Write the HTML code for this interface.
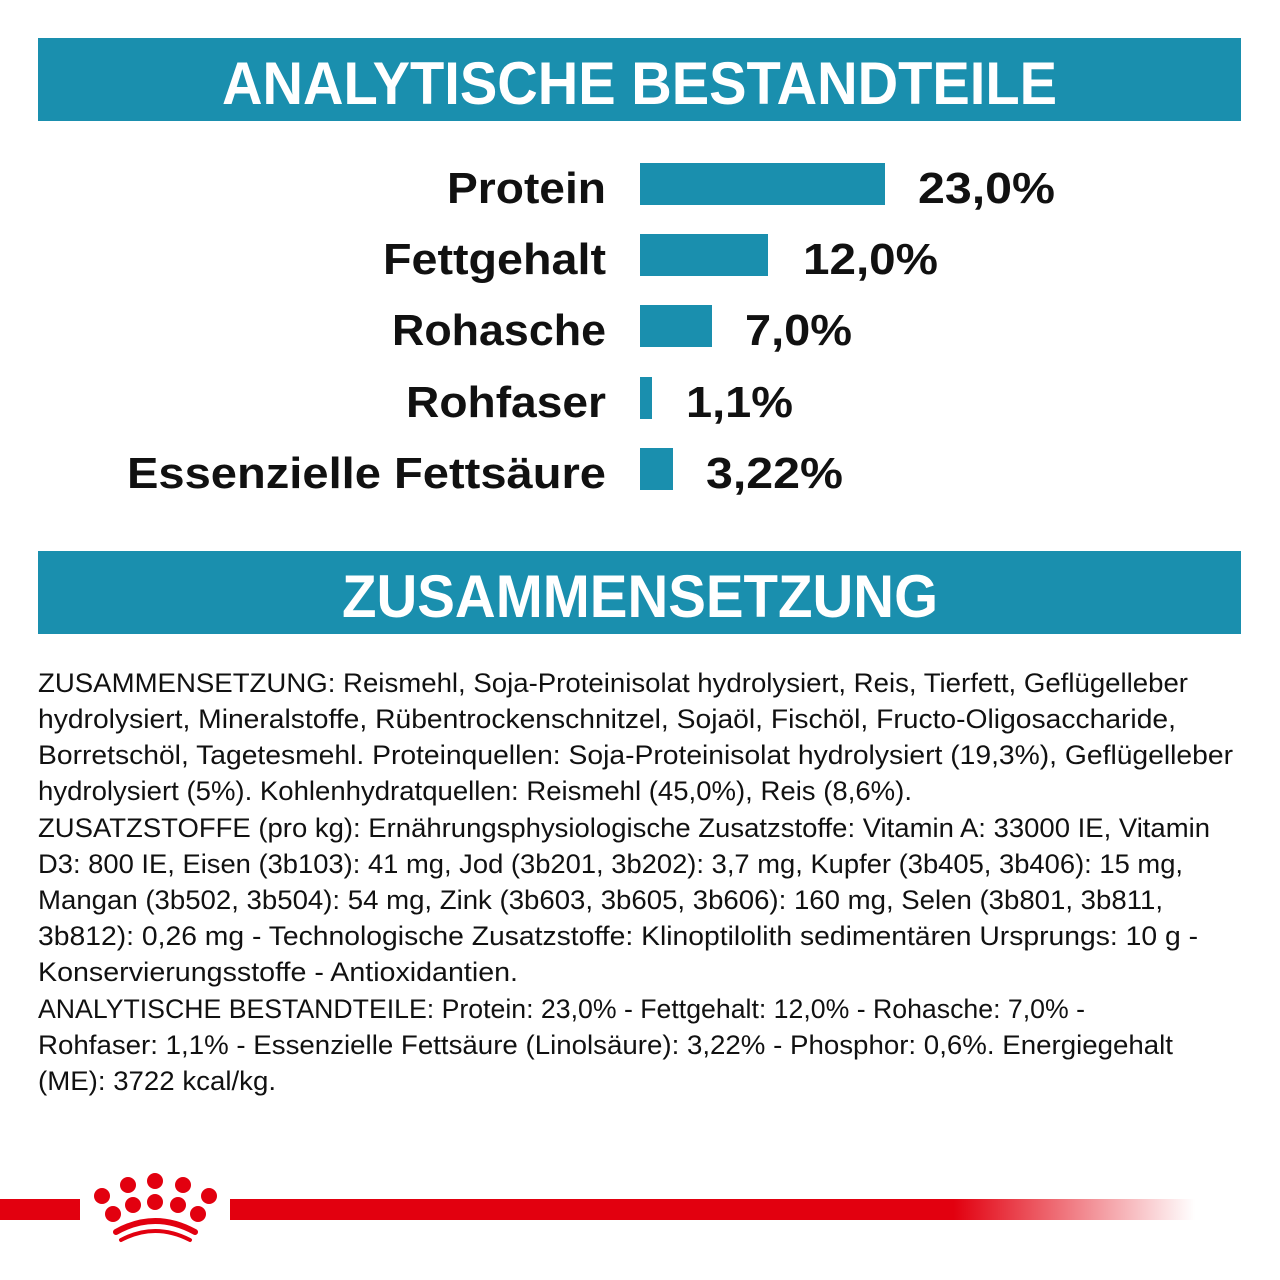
<!DOCTYPE html>
<html><head><meta charset="utf-8"><style>
html,body{margin:0;padding:0;background:#fff;width:1280px;height:1280px;overflow:hidden}
</style></head><body>
<svg width="1280" height="1280" viewBox="0 0 1280 1280" xmlns="http://www.w3.org/2000/svg" font-family="Liberation Sans, sans-serif">
<defs><linearGradient id="g" x1="0" x2="1"><stop offset="0" stop-color="#e2000f"/><stop offset="0.75" stop-color="#e2000f"/><stop offset="1" stop-color="#e2000f" stop-opacity="0"/></linearGradient></defs>
<rect x="38" y="38" width="1203" height="83" fill="#1a8fae"/>
<text x="222" y="104" textLength="835" lengthAdjust="spacingAndGlyphs" font-size="60" font-weight="bold" fill="#fff">ANALYTISCHE BESTANDTEILE</text>
<g font-size="44" font-weight="bold" fill="#111">
<text x="447" y="203" textLength="159" lengthAdjust="spacingAndGlyphs">Protein</text>
<text x="383" y="274" textLength="223" lengthAdjust="spacingAndGlyphs">Fettgehalt</text>
<text x="392" y="345" textLength="214" lengthAdjust="spacingAndGlyphs">Rohasche</text>
<text x="406" y="417" textLength="200" lengthAdjust="spacingAndGlyphs">Rohfaser</text>
<text x="127" y="488" textLength="479" lengthAdjust="spacingAndGlyphs">Essenzielle Fettsäure</text>
<text x="918" y="203" textLength="137" lengthAdjust="spacingAndGlyphs">23,0%</text>
<text x="803" y="274" textLength="135" lengthAdjust="spacingAndGlyphs">12,0%</text>
<text x="745" y="345" textLength="107" lengthAdjust="spacingAndGlyphs">7,0%</text>
<text x="686" y="417" textLength="107" lengthAdjust="spacingAndGlyphs">1,1%</text>
<text x="706" y="488" textLength="137" lengthAdjust="spacingAndGlyphs">3,22%</text>
</g>
<g fill="#1a8fae">
<rect x="640" y="163" width="245" height="42"/>
<rect x="640" y="234" width="128" height="42"/>
<rect x="640" y="305" width="72" height="42"/>
<rect x="640" y="377" width="12" height="42"/>
<rect x="640" y="448" width="33" height="42"/>
</g>
<rect x="38" y="551" width="1203" height="83" fill="#1a8fae"/>
<text x="342" y="617" textLength="596" lengthAdjust="spacingAndGlyphs" font-size="60" font-weight="bold" fill="#fff">ZUSAMMENSETZUNG</text>
<g font-size="27" fill="#111" lengthAdjust="spacingAndGlyphs">
<text x="38" y="692" textLength="1150" lengthAdjust="spacingAndGlyphs">ZUSAMMENSETZUNG: Reismehl, Soja-Proteinisolat hydrolysiert, Reis, Tierfett, Geflügelleber</text>
<text x="38" y="728" textLength="1138" lengthAdjust="spacingAndGlyphs">hydrolysiert, Mineralstoffe, Rübentrockenschnitzel, Sojaöl, Fischöl, Fructo-Oligosaccharide,</text>
<text x="38" y="764" textLength="1195" lengthAdjust="spacingAndGlyphs">Borretschöl, Tagetesmehl. Proteinquellen: Soja-Proteinisolat hydrolysiert (19,3%), Geflügelleber</text>
<text x="38" y="800" textLength="874" lengthAdjust="spacingAndGlyphs">hydrolysiert (5%). Kohlenhydratquellen: Reismehl (45,0%), Reis (8,6%).</text>
<text x="38" y="837" textLength="1172" lengthAdjust="spacingAndGlyphs">ZUSATZSTOFFE (pro kg): Ernährungsphysiologische Zusatzstoffe: Vitamin A: 33000 IE, Vitamin</text>
<text x="38" y="873" textLength="1145" lengthAdjust="spacingAndGlyphs">D3: 800 IE, Eisen (3b103): 41 mg, Jod (3b201, 3b202): 3,7 mg, Kupfer (3b405, 3b406): 15 mg,</text>
<text x="38" y="909" textLength="1125" lengthAdjust="spacingAndGlyphs">Mangan (3b502, 3b504): 54 mg, Zink (3b603, 3b605, 3b606): 160 mg, Selen (3b801, 3b811,</text>
<text x="38" y="945" textLength="1160" lengthAdjust="spacingAndGlyphs">3b812): 0,26 mg - Technologische Zusatzstoffe: Klinoptilolith sedimentären Ursprungs: 10 g -</text>
<text x="38" y="981" textLength="480" lengthAdjust="spacingAndGlyphs">Konservierungsstoffe - Antioxidantien.</text>
<text x="38" y="1018" textLength="1047" lengthAdjust="spacingAndGlyphs">ANALYTISCHE BESTANDTEILE: Protein: 23,0% - Fettgehalt: 12,0% - Rohasche: 7,0% -</text>
<text x="38" y="1054" textLength="1135" lengthAdjust="spacingAndGlyphs">Rohfaser: 1,1% - Essenzielle Fettsäure (Linolsäure): 3,22% - Phosphor: 0,6%. Energiegehalt</text>
<text x="38" y="1090" textLength="238" lengthAdjust="spacingAndGlyphs">(ME): 3722 kcal/kg.</text>
</g>
<rect x="0" y="1199" width="80" height="21" fill="#e2000f"/>
<rect x="230" y="1199" width="965" height="21" fill="url(#g)"/>
<g fill="#e2000f">
<circle cx="102" cy="1196" r="8"/><circle cx="128" cy="1185" r="8"/><circle cx="155" cy="1181" r="8"/><circle cx="183" cy="1185" r="8"/><circle cx="209" cy="1196" r="8"/>
<circle cx="113" cy="1214" r="8"/><circle cx="133" cy="1205" r="8"/><circle cx="155" cy="1202" r="8"/><circle cx="178" cy="1205" r="8"/><circle cx="198" cy="1214" r="8"/>
<path d="M116 1232 Q155 1210 195 1232" stroke="#e2000f" stroke-width="6" fill="none" stroke-linecap="round"/>
<path d="M121 1240 Q155 1222 190 1240" stroke="#e2000f" stroke-width="4" fill="none" stroke-linecap="round"/>
</g>
</svg>
</body></html>
